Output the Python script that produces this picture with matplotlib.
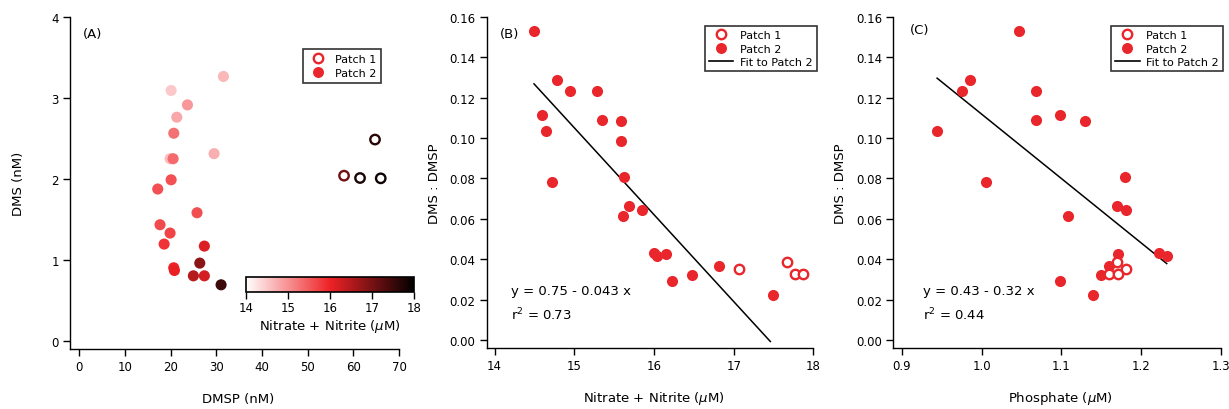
import numpy as np
import matplotlib
matplotlib.use("Agg")
import matplotlib.pyplot as plt
from matplotlib.colors import LinearSegmentedColormap, Normalize
from matplotlib.lines import Line2D
import matplotlib.cm as cm

# ---------------- data ----------------
# Patch 2 samples
p2_dmsp = [20.13, 21.37, 23.7, 20.71, 19.9, 20.56, 17.2, 31.57, 20.13, 29.53, 17.7,
           19.9, 25.8, 18.6, 20.7, 20.85, 27.4, 27.4, 25.0, 26.4, 31.06]
p2_dms = [3.093, 2.763, 2.915, 2.565, 2.25, 2.25, 1.876, 3.266, 1.99, 2.313, 1.435,
          1.332, 1.583, 1.196, 0.903, 0.870, 1.171, 0.804, 0.804, 0.961, 0.693]
p2_nitrate = [14.494, 14.787, 14.942, 15.282, 14.599, 15.353, 15.587, 14.641, 15.587,
              14.725, 15.625, 15.692, 15.608, 15.847, 15.994, 16.036, 16.153, 16.228,
              16.475, 16.815, 17.493]
p2_ratio = [0.1531, 0.1288, 0.1231, 0.1232, 0.1115, 0.1090, 0.1085, 0.1033, 0.0986,
            0.0782, 0.0807, 0.0665, 0.0612, 0.0642, 0.0432, 0.0417, 0.0427, 0.0294,
            0.0320, 0.0365, 0.0224]
p2_phosphate = [1.047, 0.9856, 0.9756, 1.0679, 1.0983, 1.0679, 1.1292, 0.9443, np.nan,
                1.006, 1.180, 1.170, 1.1088, 1.1806, 1.222, 1.232, 1.1706, 1.0983,
                1.1497, 1.160, 1.139]

# Patch 1 samples
p1_dmsp = [57.97, 64.75, 61.47, 66.0]
p1_dms = [2.041, 2.487, 2.012, 2.008]
p1_nitrate = [17.062, 17.665, 17.774, 17.866]
p1_ratio = [0.0353, 0.0384, 0.0327, 0.0325]
p1_phosphate = [1.181, 1.170, 1.1597, 1.1706]

# fits to Patch 2 (intercept, slope)
fit_B = [0.75, -0.043]
fit_C = [0.4308, -0.319]
eq_B = ["y = 0.75 - 0.043 x", "r$^{2}$ = 0.73"]
eq_C = ["y = 0.43 - 0.32 x", "r$^{2}$ = 0.44"]

RED = "#E8262B"
FS_TICK = 8.5
FS_LAB = 9.5

cmap = LinearSegmentedColormap.from_list(
    "wrk", [(0.0, "#ffffff"), (0.5, "#ee2226"), (1.0, "#000000")])
norm = Normalize(14, 18)

fig = plt.figure(figsize=(12.29, 4.10), dpi=100)
axA = fig.add_axes([0.05696, 0.1463, 0.2677, 0.8097])
axB = fig.add_axes([0.3960, 0.1488, 0.2658, 0.8080])
axC = fig.add_axes([0.7269, 0.1488, 0.2666, 0.8080])


def style(ax):
    for s in ["top", "right"]:
        ax.spines[s].set_visible(False)
    for s in ["left", "bottom"]:
        ax.spines[s].set_linewidth(1.0)
    ax.tick_params(direction="out", length=5, width=1.0, labelsize=FS_TICK,
                   colors="black", pad=3)


S_FILL = 64
S_OPEN = 46
LW_OPEN = 1.7

# ---- Panel A ----
style(axA)
axA.scatter(p2_dmsp, p2_dms, c=p2_nitrate, cmap=cmap, norm=norm, s=S_FILL,
            linewidths=0, zorder=3)
axA.scatter(p1_dmsp, p1_dms, facecolors="white",
            edgecolors=cmap(norm(np.array(p1_nitrate))), s=S_OPEN,
            linewidths=LW_OPEN, zorder=4)
axA.set_xlim(-2, 70)
axA.set_ylim(-0.1, 4)
axA.set_xticks(np.arange(0, 71, 10))
axA.set_yticks([0, 1, 2, 3, 4])
axA.set_xlabel("DMSP (nM)", fontsize=FS_LAB)
axA.set_ylabel("DMS (nM)", fontsize=FS_LAB)
axA.xaxis.set_label_coords(0.51, -0.15)
axA.yaxis.set_label_coords(-0.158, 0.5)
axA.xaxis.label.set_va("center")
axA.yaxis.label.set_va("center")
axA.text(0.04, 0.949, "(A)", transform=axA.transAxes, fontsize=FS_LAB,
         va="center", ha="left")

h1 = Line2D([], [], marker="o", ls="none", mfc="white", mec=RED, ms=6.8, mew=LW_OPEN)
h2 = Line2D([], [], marker="o", ls="none", mfc=RED, mec=RED, ms=7.9, mew=0)
hl = Line2D([], [], color="black", lw=1.2)

legA = fig.legend([h1, h2], ["Patch 1", "Patch 2"], loc="upper right",
                  bbox_to_anchor=(0.3103, 0.878), fontsize=8, frameon=True,
                  fancybox=False, edgecolor="black", borderaxespad=0,
                  handlelength=1.8, labelspacing=0.35, borderpad=0.45,
                  handletextpad=0.6)
legA.get_frame().set_linewidth(1.2)

cax = fig.add_axes([0.2000, 0.2860, 0.1372, 0.0360])
sm = cm.ScalarMappable(norm=norm, cmap=cmap)
cb = fig.colorbar(sm, cax=cax, orientation="horizontal", ticks=[14, 15, 16, 17, 18])
cb.outline.set_linewidth(1.2)
cax.tick_params(direction="out", length=5, width=1.0, labelsize=FS_TICK, pad=2)
cb.set_label("Nitrate + Nitrite ($\\mu$M)", fontsize=FS_LAB, labelpad=2)

# ---- Panel B ----
style(axB)
axB.scatter(p2_nitrate, p2_ratio, color=RED, s=S_FILL, linewidths=0, zorder=3)
axB.scatter(p1_nitrate, p1_ratio, facecolors="white", edgecolors=RED, s=S_OPEN,
            linewidths=LW_OPEN, zorder=4)
xb = np.array([min(p2_nitrate), 17.46])
axB.plot(xb, fit_B[0] + fit_B[1] * xb, color="black", lw=1.1, zorder=2)
axB.set_xlim(13.9, 18)
axB.set_ylim(-0.004, 0.16)
axB.set_xticks([14, 15, 16, 17, 18])
axB.set_yticks(np.arange(0, 0.161, 0.02))
axB.yaxis.set_major_formatter(matplotlib.ticker.FormatStrFormatter("%.2f"))
axB.set_xlabel("Nitrate + Nitrite ($\\mu$M)", fontsize=FS_LAB)
axB.set_ylabel("DMS : DMSP", fontsize=FS_LAB)
axB.xaxis.set_label_coords(0.513, -0.15)
axB.yaxis.set_label_coords(-0.161, 0.5)
axB.xaxis.label.set_va("center")
axB.yaxis.label.set_va("center")
axB.text(0.04, 0.949, "(B)", transform=axB.transAxes, fontsize=FS_LAB,
         va="center", ha="left")
axB.text(14.21, 0.0244, eq_B[0], fontsize=9.5, va="center", ha="left")
axB.text(14.21, 0.0129, eq_B[1], fontsize=9.5, va="center", ha="left")
legB = fig.legend([h1, h2, hl], ["Patch 1", "Patch 2", "Fit to Patch 2"],
                  loc="upper right", bbox_to_anchor=(0.6645, 0.9334), fontsize=8,
                  frameon=True, fancybox=False, edgecolor="black", borderaxespad=0,
                  handlelength=2.2, labelspacing=0.3, borderpad=0.35,
                  handletextpad=0.6)
legB.get_frame().set_linewidth(1.2)

# ---- Panel C ----
style(axC)
axC.scatter(p2_phosphate, p2_ratio, color=RED, s=S_FILL, linewidths=0, zorder=3)
axC.scatter(p1_phosphate, p1_ratio, facecolors="white", edgecolors=RED, s=S_OPEN,
            linewidths=LW_OPEN, zorder=4)
xc = np.array([np.nanmin(p2_phosphate), np.nanmax(p2_phosphate)])
axC.plot(xc, fit_C[0] + fit_C[1] * xc, color="black", lw=1.1, zorder=2)
axC.set_xlim(0.8895, 1.3)
axC.set_ylim(-0.004, 0.16)
axC.set_xticks([0.9, 1.0, 1.1, 1.2, 1.3])
axC.xaxis.set_major_formatter(matplotlib.ticker.FormatStrFormatter("%.1f"))
axC.set_yticks(np.arange(0, 0.161, 0.02))
axC.yaxis.set_major_formatter(matplotlib.ticker.FormatStrFormatter("%.2f"))
axC.set_xlabel("Phosphate ($\\mu$M)", fontsize=FS_LAB)
axC.set_ylabel("DMS : DMSP", fontsize=FS_LAB)
axC.xaxis.set_label_coords(0.51, -0.15)
axC.yaxis.set_label_coords(-0.16, 0.5)
axC.xaxis.label.set_va("center")
axC.yaxis.label.set_va("center")
axC.text(0.05, 0.962, "(C)", transform=axC.transAxes, fontsize=FS_LAB,
         va="center", ha="left")
axC.text(0.927, 0.0243, eq_C[0], fontsize=9.5, va="center", ha="left")
axC.text(0.927, 0.0127, eq_C[1], fontsize=9.5, va="center", ha="left")
legC = fig.legend([h1, h2, hl], ["Patch 1", "Patch 2", "Fit to Patch 2"],
                  loc="upper right", bbox_to_anchor=(0.9949, 0.9334), fontsize=8,
                  frameon=True, fancybox=False, edgecolor="black", borderaxespad=0,
                  handlelength=2.2, labelspacing=0.3, borderpad=0.35,
                  handletextpad=0.6)
legC.get_frame().set_linewidth(1.2)

fig.savefig("out.png", dpi=100)
